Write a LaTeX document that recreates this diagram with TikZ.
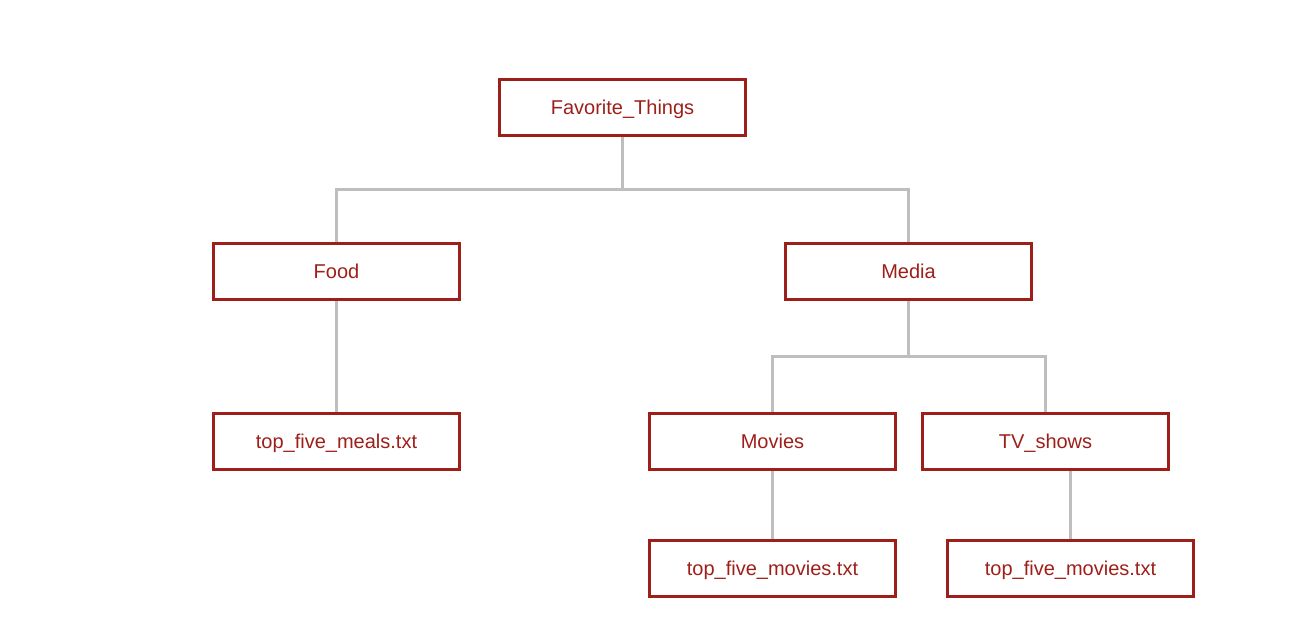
\documentclass[tikz,border=0pt]{standalone}
\usepackage{fontspec}
\setmainfont{Liberation Sans}
\usetikzlibrary{positioning}
\definecolor{boxred}{RGB}{158,31,26}
\definecolor{linegray}{RGB}{190,190,190}
\tikzset{every picture/.style={line width=0.75pt}}
\tikzset{
  folder/.style={draw=boxred, line width=2.25pt, text=boxred, minimum width=184.5pt, minimum height=42pt, inner sep=0pt, text height=14pt, text depth=2.8pt, font=\fontsize{15}{18}\selectfont},
  link/.style={draw=linegray, line width=2.25pt}
}

\begin{document}
\begin{tikzpicture}[x=0.75pt,y=0.75pt,yscale=-1,xscale=1]
%set diagram size
\useasboundingbox (0,0) rectangle (1310,642);

% Folder Nodes
\node [folder] (fav) at (622.5,107.5) {Favorite\_Things};
\node [folder] (food) at (336.5,271.5) {Food};
\node [folder] (media) at (908.5,271.5) {Media};
\node [folder] (meals) at (336.5,441.5) {top\_five\_meals.txt};
\node [folder] (movies) at (772.5,441.5) {Movies};
\node [folder] (tv) at (1045.5,441.5) {TV\_shows};
\node [folder] (movtxt) at (772.5,568.5) {top\_five\_movies.txt};
\node [folder] (tvtxt) at (1070.5,568.5) {top\_five\_movies.txt};

% Branch Points
\coordinate (favbar) at (622.5,189);
\coordinate (mediabar) at (908.5,356);

% Connectors
\draw [link] (fav.south) -- (favbar);
\draw [link] (favbar) -| (food.north);
\draw [link] (favbar) -| (media.north);
\draw [link] (food.south) -- (meals.north);
\draw [link] (media.south) -- (mediabar);
\draw [link] (mediabar) -| (movies.north);
\draw [link] (mediabar) -| (tv.north);
\draw [link] (movies.south) -- (movtxt.north);
\draw [link] (tvtxt.north) -- (tvtxt.north |- tv.south);

\end{tikzpicture}
\end{document}
